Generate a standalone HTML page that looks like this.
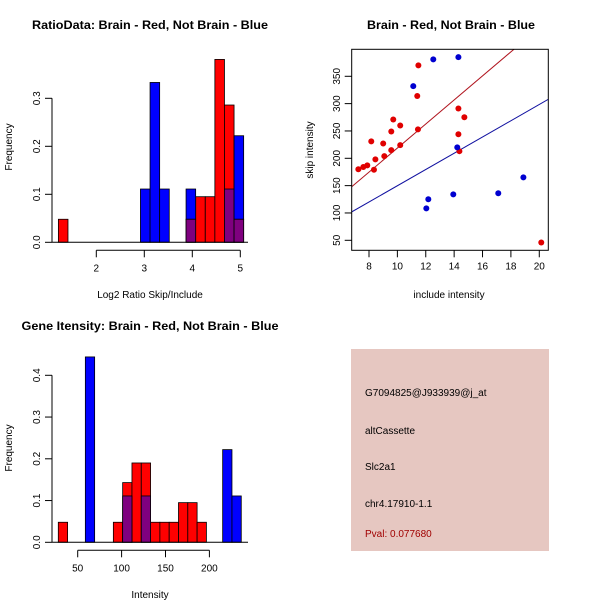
<!DOCTYPE html>
<html><head><meta charset="utf-8"><style>
html,body{margin:0;padding:0;background:#fff;}
svg{display:block;font-family:"Liberation Sans",sans-serif;}
</style></head><body>
<svg id="chart" width="600" height="600" viewBox="0 0 600 600">
<text x="150" y="29" font-size="12" font-weight="bold" text-anchor="middle" textLength="236" lengthAdjust="spacingAndGlyphs">RatioData: Brain - Red, Not Brain - Blue</text>
<text x="451" y="29" font-size="12" font-weight="bold" text-anchor="middle" textLength="168" lengthAdjust="spacingAndGlyphs">Brain - Red, Not Brain - Blue</text>
<text x="150" y="330" font-size="12" font-weight="bold" text-anchor="middle" textLength="257" lengthAdjust="spacingAndGlyphs">Gene Itensity: Brain - Red, Not Brain - Blue</text>
<text x="150" y="298" font-size="10" text-anchor="middle">Log2 Ratio Skip/Include</text>
<text x="449" y="298" font-size="10" text-anchor="middle">include intensity</text>
<text x="150" y="598" font-size="10" text-anchor="middle">Intensity</text>
<text transform="translate(12,147) rotate(-90)" font-size="10" text-anchor="middle">Frequency</text>
<text transform="translate(313,150) rotate(-90)" font-size="10" text-anchor="middle">skip intensity</text>
<text transform="translate(12,448) rotate(-90)" font-size="10" text-anchor="middle">Frequency</text>
<g id="p1"></g>
<g id="p2"></g>
<g id="p3"></g>
<rect x="351" y="349" width="198" height="202" fill="#e6c7c1"/>
<text x="365" y="396" font-size="10">G7094825@J933939@j_at</text>
<text x="365" y="434" font-size="10">altCassette</text>
<text x="365" y="470" font-size="10">Slc2a1</text>
<text x="365" y="507" font-size="10">chr4.17910-1.1</text>
<text x="365" y="537" font-size="10" fill="#a00000">Pval: 0.077680</text>
</svg>
<script>
// ---- data ----
const ratioRedLefts = [1.21, 3.87, 4.07, 4.27, 4.47, 4.67, 4.87];
const ratioRedFreq = [0.048, 0.048, 0.095, 0.095, 0.381, 0.286, 0.048];
const ratioBlueLefts = [2.92, 3.12, 3.32, 3.87, 4.67, 4.87];
const ratioBlueFreq = [0.111, 0.333, 0.111, 0.111, 0.111, 0.222];
const ratioXTicks = [2, 3, 4, 5];
const ratioYTicks = [0, 0.1, 0.2, 0.3];

const redX = [7.25,7.6,7.88,8.16,8.35,8.45,9.0,9.08,9.57,9.57,9.71,10.2,10.2,11.45,11.4,11.48,14.3,14.3,14.37,14.72,20.14];
const redY = [180,184,187,231,179,198,227,204,249,215,271,260,224,253,314,370,291,244,213,275,46];
const blueX = [11.12,12.53,14.3,14.22,12.18,12.04,13.94,17.11,18.88];
const blueY = [332,381,385,220,125,108.5,134,136,165];
const redFit = [-1.3, 22.0];   // intercept, slope
const blueFit = [1.2, 14.86];
const scatterXTicks = [8,10,12,14,16,18,20];
const scatterYTicks = [50,100,150,200,250,300,350];

const intRedLefts = [27.9, 90.6, 101.2, 111.8, 122.4, 133.0, 143.6, 154.2, 164.8, 175.4, 186.0];
const intRedFreq = [0.048, 0.048, 0.143, 0.19, 0.19, 0.048, 0.048, 0.048, 0.095, 0.095, 0.048];
const intBlueLefts = [58.7, 101.2, 122.4, 215.1, 225.7];
const intBlueFreq = [0.444, 0.111, 0.111, 0.222, 0.111];
const intXTicks = [50, 100, 150, 200];
const intYTicks = [0, 0.1, 0.2, 0.3, 0.4];

const NS = "http://www.w3.org/2000/svg";
function mk(parent, tag, attrs){const e=document.createElementNS(NS,tag);for(const k in attrs)e.setAttribute(k,attrs[k]);parent.appendChild(e);return e;}

function hist(g, o){
  const sx=v=>o.x0+(v-o.xv0)*o.xs, sy=v=>o.y0-v*o.ys;
  const w=o.bw*o.xs;
  o.redL.forEach((l,i)=>{
    const r=mk(g,'rect',{x:sx(l),y:sy(o.redF[i]),width:w,height:o.redF[i]*o.ys,fill:'#ff0000',stroke:'#000','stroke-width':0.8});
    
    
  });
  o.blueL.forEach((l,i)=>{
    let rf=0; o.redL.forEach((rl,j)=>{if(Math.abs(rl-l)<0.01*o.bw*10) rf=o.redF[j];});
    const f=o.blueF[i];
    if(f>rf){
      const r=mk(g,'rect',{x:sx(l),y:sy(f),width:w,height:(f-rf)*o.ys,fill:'#0000ff',stroke:'#000','stroke-width':0.8});
      
      
    }
    if(rf>0){
      const m=Math.min(f,rf);
      const r=mk(g,'rect',{x:sx(l),y:sy(m),width:w,height:m*o.ys,fill:'#7f007f',stroke:'#000','stroke-width':0.8});
      
      
    }
  });
  mk(g,'line',{x1:52,x2:248,y1:o.y0,y2:o.y0,stroke:'#000','stroke-width':1});
  // y axis
  const ya=mk(g,'g',{});
  
  
  mk(ya,'line',{x1:52,x2:52,y1:sy(o.yt[0]),y2:sy(o.yt[o.yt.length-1]),stroke:'#000'});
  o.yt.forEach(t=>{
    mk(ya,'line',{x1:45,x2:52,y1:sy(t),y2:sy(t),stroke:'#000'});
    const tx=mk(ya,'text',{transform:`translate(40,${sy(t)}) rotate(-90)`,'font-size':10,'text-anchor':'middle'});
    tx.textContent=t.toFixed(1);
    
    
  });
  const xa=mk(g,'g',{});
  
  
  const ay=o.y0+8;
  mk(xa,'line',{x1:sx(o.xt[0]),x2:sx(o.xt[o.xt.length-1]),y1:ay,y2:ay,stroke:'#000'});
  o.xt.forEach(t=>{
    mk(xa,'line',{x1:sx(t),x2:sx(t),y1:ay,y2:ay+7,stroke:'#000'});
    const tx=mk(xa,'text',{x:sx(t),y:ay+21,'font-size':10,'text-anchor':'middle'});
    tx.textContent=t;
    
    
  });
}

hist(document.getElementById('p1'),{x0:96.3,xv0:2,xs:48,y0:242.3,ys:480,bw:0.2,
  redL:ratioRedLefts,redF:ratioRedFreq,blueL:ratioBlueLefts,blueF:ratioBlueFreq,xt:ratioXTicks,yt:ratioYTicks});
hist(document.getElementById('p3'),{x0:77.7,xv0:50,xs:0.878,y0:542.3,ys:417.5,bw:10.6,
  redL:intRedLefts,redF:intRedFreq,blueL:intBlueLefts,blueF:intBlueFreq,xt:intXTicks,yt:intYTicks});

// scatter
(function(){
  const g=document.getElementById('p2');
  const X0=351.7,X1=548.3,Y0=49.3,Y1=250.3;
  const sx=v=>369+(v-8)*14.19, sy=v=>240.3-(v-50)*0.5467;
  mk(g,'defs',{}).innerHTML='<clipPath id="cp"><rect x="351.7" y="49.3" width="196.6" height="201"/></clipPath>';
  const xmin=(X0-369)/14.19+8, xmax=(X1-369)/14.19+8;
  [[redFit,'#b0141e','red-fit-line'],[blueFit,'#1010a0','blue-fit-line']].forEach(([f,c,n])=>{
    const l=mk(g,'line',{x1:sx(xmin),y1:sy(f[0]+f[1]*xmin),x2:sx(xmax),y2:sy(f[0]+f[1]*xmax),stroke:c,'stroke-width':1,'clip-path':'url(#cp)'});
    
    
  });
  redX.forEach((x,i)=>{
    const c=mk(g,'circle',{cx:sx(x),cy:sy(redY[i]),r:3,fill:'#e00000'});
    
    
  });
  blueX.forEach((x,i)=>{
    const c=mk(g,'circle',{cx:sx(x),cy:sy(blueY[i]),r:3,fill:'#0000d0'});
    
    
  });
  mk(g,'rect',{x:X0,y:Y0,width:X1-X0,height:Y1-Y0,fill:'none',stroke:'#000'});
  scatterXTicks.forEach(t=>{
    mk(g,'line',{x1:sx(t),x2:sx(t),y1:Y1,y2:Y1+7,stroke:'#000'});
    const tx=mk(g,'text',{x:sx(t),y:Y1+19,'font-size':10,'text-anchor':'middle'});
    tx.textContent=t;
    
    
  });
  scatterYTicks.forEach(t=>{
    mk(g,'line',{x1:X0-7,x2:X0,y1:sy(t),y2:sy(t),stroke:'#000'});
    const tx=mk(g,'text',{transform:`translate(340,${sy(t)}) rotate(-90)`,'font-size':10,'text-anchor':'middle'});
    tx.textContent=t;
    
    
  });
})();
</script>
</body></html>
